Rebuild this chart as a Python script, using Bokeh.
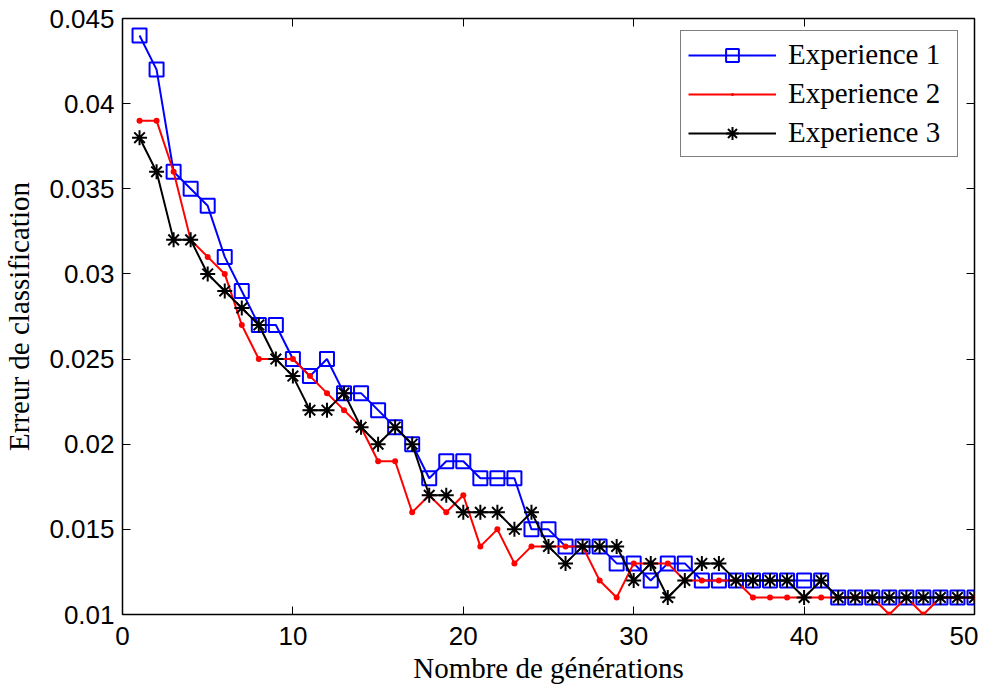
from bokeh.plotting import figure
from bokeh.models import FixedTicker, LinearAxis, Range1d
from bokeh.embed import file_html
from bokeh.resources import INLINE

# ---- data ----
generations = list(range(1, 51))
exp1 = [0.044, 0.042, 0.036, 0.035, 0.034, 0.031, 0.029, 0.027, 0.027, 0.025,
        0.024, 0.025, 0.023, 0.023, 0.022, 0.021, 0.020, 0.018, 0.019, 0.019,
        0.018, 0.018, 0.018, 0.015, 0.015, 0.014, 0.014, 0.014, 0.013, 0.013,
        0.012, 0.013, 0.013, 0.012, 0.012, 0.012, 0.012, 0.012, 0.012, 0.012,
        0.012, 0.011, 0.011, 0.011, 0.011, 0.011, 0.011, 0.011, 0.011, 0.011]
exp2 = [0.039, 0.039, 0.036, 0.032, 0.031, 0.030, 0.027, 0.025, 0.025, 0.025,
        0.024, 0.023, 0.022, 0.021, 0.019, 0.019, 0.016, 0.017, 0.016, 0.017,
        0.014, 0.015, 0.013, 0.014, 0.014, 0.014, 0.014, 0.012, 0.011, 0.013,
        0.013, 0.013, 0.012, 0.012, 0.012, 0.012, 0.011, 0.011, 0.011, 0.011,
        0.011, 0.011, 0.011, 0.011, 0.010, 0.011, 0.010, 0.011, 0.011, 0.011]
exp3 = [0.038, 0.036, 0.032, 0.032, 0.030, 0.029, 0.028, 0.027, 0.025, 0.024,
        0.022, 0.022, 0.023, 0.021, 0.020, 0.021, 0.020, 0.017, 0.017, 0.016,
        0.016, 0.016, 0.015, 0.016, 0.014, 0.013, 0.014, 0.014, 0.014, 0.012,
        0.013, 0.011, 0.012, 0.013, 0.013, 0.012, 0.012, 0.012, 0.012, 0.011,
        0.012, 0.011, 0.011, 0.011, 0.011, 0.011, 0.011, 0.011, 0.011, 0.011]
series_names = ["Experience 1", "Experience 2", "Experience 3"]
x_ticks = [0, 10, 20, 30, 40, 50]
y_ticks = [0.01, 0.015, 0.02, 0.025, 0.03, 0.035, 0.04, 0.045]
y_tick_labels = ["0.01", "0.015", "0.02", "0.025", "0.03", "0.035", "0.04", "0.045"]
x_label = "Nombre de générations"
y_label = "Erreur de classification"

SERIF = "Liberation Serif"
SANS = "Liberation Sans"

p = figure(frame_width=852, frame_height=596,
           x_range=Range1d(0, 50), y_range=Range1d(0.01, 0.045),
           output_backend="svg", toolbar_location=None,
           min_border_left=118, min_border_right=4, min_border_top=18,
           min_border_bottom=60)
p.background_fill_color = "white"
p.border_fill_color = "white"
p.outline_line_color = "black"
p.outline_line_width = 1.5
p.grid.visible = False

p.line(generations, exp1, color="#0000ff", line_width=2, legend_label=series_names[0])
p.scatter(generations, exp1, marker="square", size=14, line_color="#0000ff",
          fill_color=None, line_width=2, legend_label=series_names[0])
p.line(generations, exp2, color="#ff0000", line_width=2, legend_label=series_names[1])
p.scatter(generations, exp2, marker="dot", size=24, line_color="#ff0000",
          fill_color="#ff0000", legend_label=series_names[1])
p.line(generations, exp3, color="black", line_width=2, legend_label=series_names[2])
p.scatter(generations, exp3, marker="asterisk", size=15, line_color="black",
          line_width=2, legend_label=series_names[2])

for ax in (p.xaxis[0], p.yaxis[0]):
    ax.major_tick_in = 8
    ax.major_tick_out = 0
    ax.minor_tick_line_color = None
    ax.axis_line_color = None
    ax.major_tick_line_color = "black"
    ax.major_label_text_font = SANS
    ax.major_label_text_font_size = "26px"
    ax.major_label_text_color = "black"
    ax.axis_label_text_font = SERIF
    ax.axis_label_text_font_size = "29px"
    ax.axis_label_text_font_style = "normal"
    ax.axis_label_text_color = "black"

p.xaxis[0].ticker = FixedTicker(ticks=x_ticks)
p.yaxis[0].ticker = FixedTicker(ticks=y_ticks)
p.yaxis[0].major_label_overrides = {t: l for t, l in zip(y_ticks, y_tick_labels)}
p.xaxis[0].axis_label = x_label
p.yaxis[0].axis_label = y_label
p.xaxis[0].major_label_standoff = 12
p.yaxis[0].major_label_standoff = 8
p.xaxis[0].axis_label_standoff = 4
p.yaxis[0].axis_label_standoff = 11

# mirrored ticks on top and right (box on): drawn as minor ticks, no labels
top = LinearAxis(ticker=FixedTicker(ticks=[], minor_ticks=x_ticks))
right = LinearAxis(ticker=FixedTicker(ticks=[], minor_ticks=y_ticks))
for ax in (top, right):
    ax.minor_tick_in = 8
    ax.minor_tick_out = 0
    ax.minor_tick_line_color = "black"
    ax.major_tick_in = 0
    ax.major_tick_out = 0
    ax.axis_line_color = None
    ax.major_label_standoff = 0
    ax.axis_label_standoff = 0
p.add_layout(top, "above")
p.add_layout(right, "right")

leg = p.legend[0]
leg.location = (558, 457)
leg.margin = 0
leg.border_line_color = "black"
leg.border_line_width = 1.5
leg.background_fill_color = "white"
leg.background_fill_alpha = 1
leg.label_text_font = SERIF
leg.label_text_font_size = "29px"
leg.label_text_color = "black"
leg.glyph_width = 88
leg.glyph_height = 32
leg.label_height = 32
leg.label_width = 162
leg.label_standoff = 12
leg.spacing = 6
leg.padding = 7

open("out.html", "w").write(file_html(p, INLINE))
